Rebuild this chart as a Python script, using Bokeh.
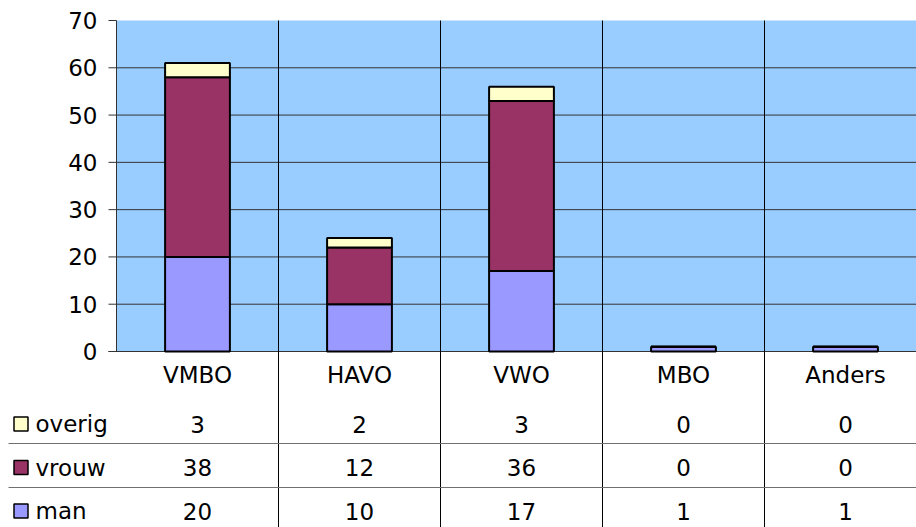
from bokeh.plotting import figure
from bokeh.models import Range1d, BoxAnnotation, ColumnDataSource
from bokeh.embed import file_html
from bokeh.resources import INLINE
from bokeh.core.properties import value

# ---- data ----
categories = ["VMBO", "HAVO", "VWO", "MBO", "Anders"]
man = [20, 10, 17, 1, 1]
vrouw = [38, 12, 36, 0, 0]
overig = [3, 2, 3, 0, 0]
series_names = ["overig", "vrouw", "man"]
series_colors = {"man": "#9999FF", "vrouw": "#993366", "overig": "#FFFFCC"}
y_ticks = [0, 10, 20, 30, 40, 50, 60, 70]

FONT = "DejaVu Sans"
FS = "23px"
W, H = 916, 527
X0_PX = 116.0        # pixel of category-axis origin
CAT_PX = 162.0       # pixel width of one category
Y0_PX = 351.0        # pixel of value 0
PPU = (351.0 - 20.0) / 70.0   # pixels per value unit

def px_x(px):
    return (px - X0_PX) / CAT_PX

def px_y(px):
    return (Y0_PX - px) / PPU

n = len(categories)
xs = [i + 0.5 for i in range(n)]
x_end = px_x(W)
y_top = max(y_ticks)

p = figure(width=W, height=H, output_backend="svg", toolbar_location=None,
           x_range=Range1d(px_x(0), x_end), y_range=Range1d(px_y(H), px_y(0)),
           x_axis_type=None, y_axis_type=None,
           min_border_left=0, min_border_right=0, min_border_top=0, min_border_bottom=0)
p.outline_line_color = None
p.xgrid.visible = False
p.ygrid.visible = False
p.background_fill_color = "white"
p.border_fill_color = "white"

# plot area background
p.add_layout(BoxAnnotation(bottom=0, top=y_top, left=0, fill_color="#99CCFF",
                           fill_alpha=1, line_color=None, level="underlay"))

# horizontal gridlines
grid_vals = [v for v in y_ticks if 0 < v < y_top]
p.segment(x0=[0] * len(grid_vals), y0=grid_vals, x1=[x_end] * len(grid_vals), y1=grid_vals,
          line_color="#333333", line_width=1)
# value axis: line, ticks, labels
p.segment(x0=[px_x(108)], y0=[0], x1=[x_end], y1=[0], line_color="#333333", line_width=1)
p.segment(x0=[0], y0=[0], x1=[0], y1=[y_top], line_color="#333333", line_width=1)
p.segment(x0=[px_x(108)] * len(y_ticks), y0=y_ticks, x1=[0] * len(y_ticks), y1=y_ticks,
          line_color="#333333", line_width=1)
p.text(x=[px_x(97)] * len(y_ticks), y=y_ticks, text=[str(v) for v in y_ticks],
       text_font=value(FONT), text_font_size=FS, text_align="right",
       text_baseline="middle", text_color="black")

# category separators (chart + table)
seps = list(range(1, n))
p.segment(x0=seps, y0=[y_top] * len(seps), x1=seps, y1=[px_y(H)] * len(seps),
          line_color="black", line_width=1)

# stacked bars
src = ColumnDataSource(dict(x=xs, man=man, vrouw=vrouw, overig=overig))
p.vbar_stack(["man", "vrouw", "overig"], x="x", width=0.4, source=src,
             color=[series_colors["man"], series_colors["vrouw"], series_colors["overig"]],
             line_color="black", line_width=2)

# ---- data table ----
ROW_PX = {"header": 374.0, "overig": 423.5, "vrouw": 467.0, "man": 510.5}
for line_px in [443.0, 487.0]:
    p.segment(x0=[px_x(8)], y0=[px_y(line_px)], x1=[x_end], y1=[px_y(line_px)],
              line_color="#707070", line_width=1)

p.text(x=xs, y=[px_y(ROW_PX["header"])] * n, text=categories, text_font=value(FONT),
       text_font_size=FS, text_align="center", text_baseline="middle", text_color="black")

values = {"overig": overig, "vrouw": vrouw, "man": man}
for name in series_names:
    ry = px_y(ROW_PX[name])
    p.text(x=xs, y=[ry] * n, text=[str(v) for v in values[name]], text_font=value(FONT),
           text_font_size=FS, text_align="center", text_baseline="middle", text_color="black")
    p.rect(x=[px_x(20.5)], y=[ry], width=14, height=14,
           width_units="screen", height_units="screen",
           fill_color=series_colors[name], line_color="black", line_width=1.5)
    p.text(x=[px_x(35)], y=[ry], text=[name], text_font=value(FONT),
           text_font_size=FS, text_align="left", text_baseline="middle", text_color="black")

open("out.html", "w").write(file_html(p, INLINE))
